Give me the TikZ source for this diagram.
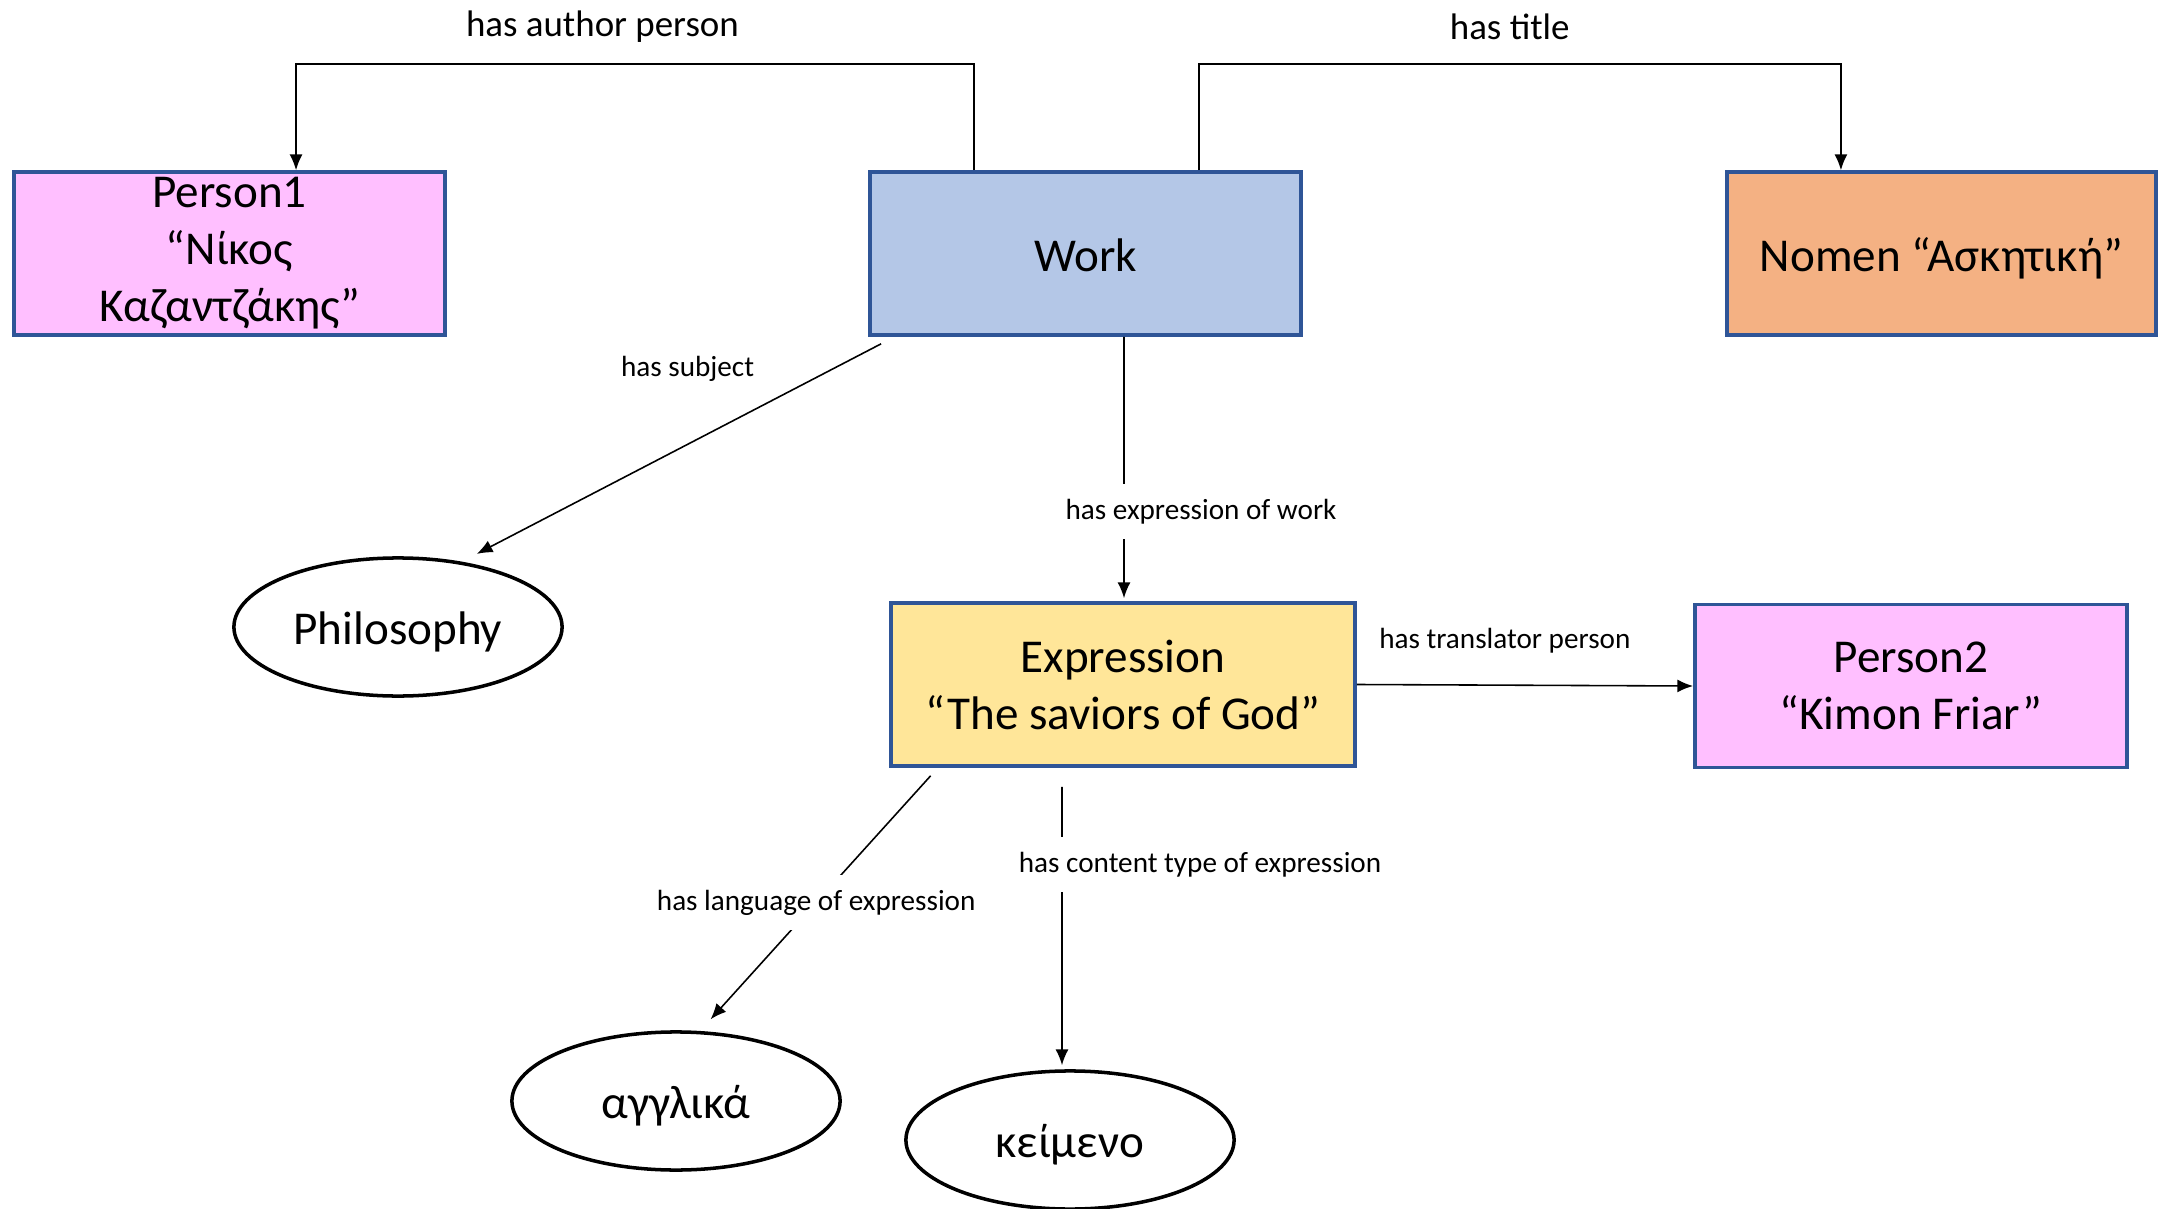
\documentclass[tikz,border=0pt]{standalone}
\usepackage{fontspec}
\setmainfont{Carlito}
\usetikzlibrary{shapes.geometric,arrows.meta}

\definecolor{personpink}{RGB}{255,191,255}
\definecolor{workblue}{RGB}{180,199,231}
\definecolor{nomenorange}{RGB}{244,177,131}
\definecolor{expryellow}{RGB}{255,230,153}
\definecolor{boxline}{RGB}{47,85,151}

\newcommand{\bigtext}{\fontsize{13.4pt}{16.2pt}\selectfont}
\newcommand{\toptext}{\fontsize{10.5pt}{12.6pt}\selectfont}
\newcommand{\smalltext}{\fontsize{8.3pt}{10pt}\selectfont}

\tikzset{
  entity/.style={draw=boxline, line width=1pt, minimum width=4.31cm, minimum height=1.63cm, inner sep=0pt, align=center, font=\bigtext},
  oneline/.style={text height=12pt, text depth=2pt},
  oval/.style={ellipse, draw=black, line width=1pt, minimum width=3.28cm, minimum height=1.38cm, inner sep=0pt, font=\bigtext, oneline},
  link/.style={-{Latex[length=4.5pt,width=3.7pt]}, line width=0.45pt},
  toplabel/.style={font=\toptext},
  linklabel/.style={font=\smalltext, inner xsep=2pt},
  cutlabel/.style={font=\smalltext, fill=white, inner xsep=2pt, minimum height=0.55cm},
}

\begin{document}
\begin{tikzpicture}[x=0.01cm,y=-0.01cm]
\useasboundingbox (0,0) rectangle (2159,1209);

% top row
\node[entity, fill=personpink] (person1) at (229.5,253.5) {Person1\\“Νίκος\\Καζαντζάκης”};
\node[entity, fill=workblue, oneline] (work) at (1085.5,253.5) {Work};
\node[entity, fill=nomenorange, minimum width=4.29cm, oneline] (nomen) at (1941.5,253.5) {Nomen “Ασκητική”};

% middle row
\node[oval] (philo) at (398,627) {Philosophy};
\node[entity, fill=expryellow, minimum width=4.64cm] (expr) at (1123,684.5) {Expression\\“The saviors of God”};
\node[entity, fill=personpink, minimum width=4.32cm] (person2) at (1911,686) {Person2\\“Kimon Friar”};

% bottom row
\node[oval] (angl) at (676,1101) {αγγλικά};
\node[oval] (keim) at (1070,1140) {κείμενο};

% connectors
\draw[link] ([xshift=-1.115cm]work.north) -- ++(0,1.06cm) -| node[toplabel, pos=0.274, yshift=0.37cm] {has author person} ([xshift=0.665cm]person1.north);
\draw[link] ([xshift=1.135cm]work.north) -- ++(0,1.06cm) -| node[toplabel, pos=0.242, yshift=0.37cm] {has title} ([xshift=-1.005cm]nomen.north);
\draw[link] ([xshift=0.13cm,yshift=-0.07cm]work.south west) -- node[linklabel, pos=0.1, xshift=-1.53cm, yshift=-0.04cm] {has subject} ([xshift=0.035cm,yshift=0.1cm]philo.40);
\draw[link] ([xshift=0.385cm]work.south) -- node[cutlabel, pos=0.67, xshift=0.77cm] {has expression of work} ([xshift=0.01cm,yshift=0.03cm]expr.north);
\draw[link] (expr.east) -- node[linklabel, pos=0.44, yshift=0.44cm] {has translator person} (person2.west);
\draw[link] ([xshift=0.415cm,yshift=-0.08cm]expr.south west) -- node[cutlabel, pos=0.52] {has language of expression} ([xshift=0.05cm,yshift=0.12cm]angl.67);
\draw[link] ([xshift=-0.61cm,yshift=-0.19cm]expr.south) -- node[cutlabel, pos=0.28, xshift=1.38cm] {has content type of expression} ([xshift=-0.08cm,yshift=0.04cm]keim.north);
\end{tikzpicture}
\end{document}
